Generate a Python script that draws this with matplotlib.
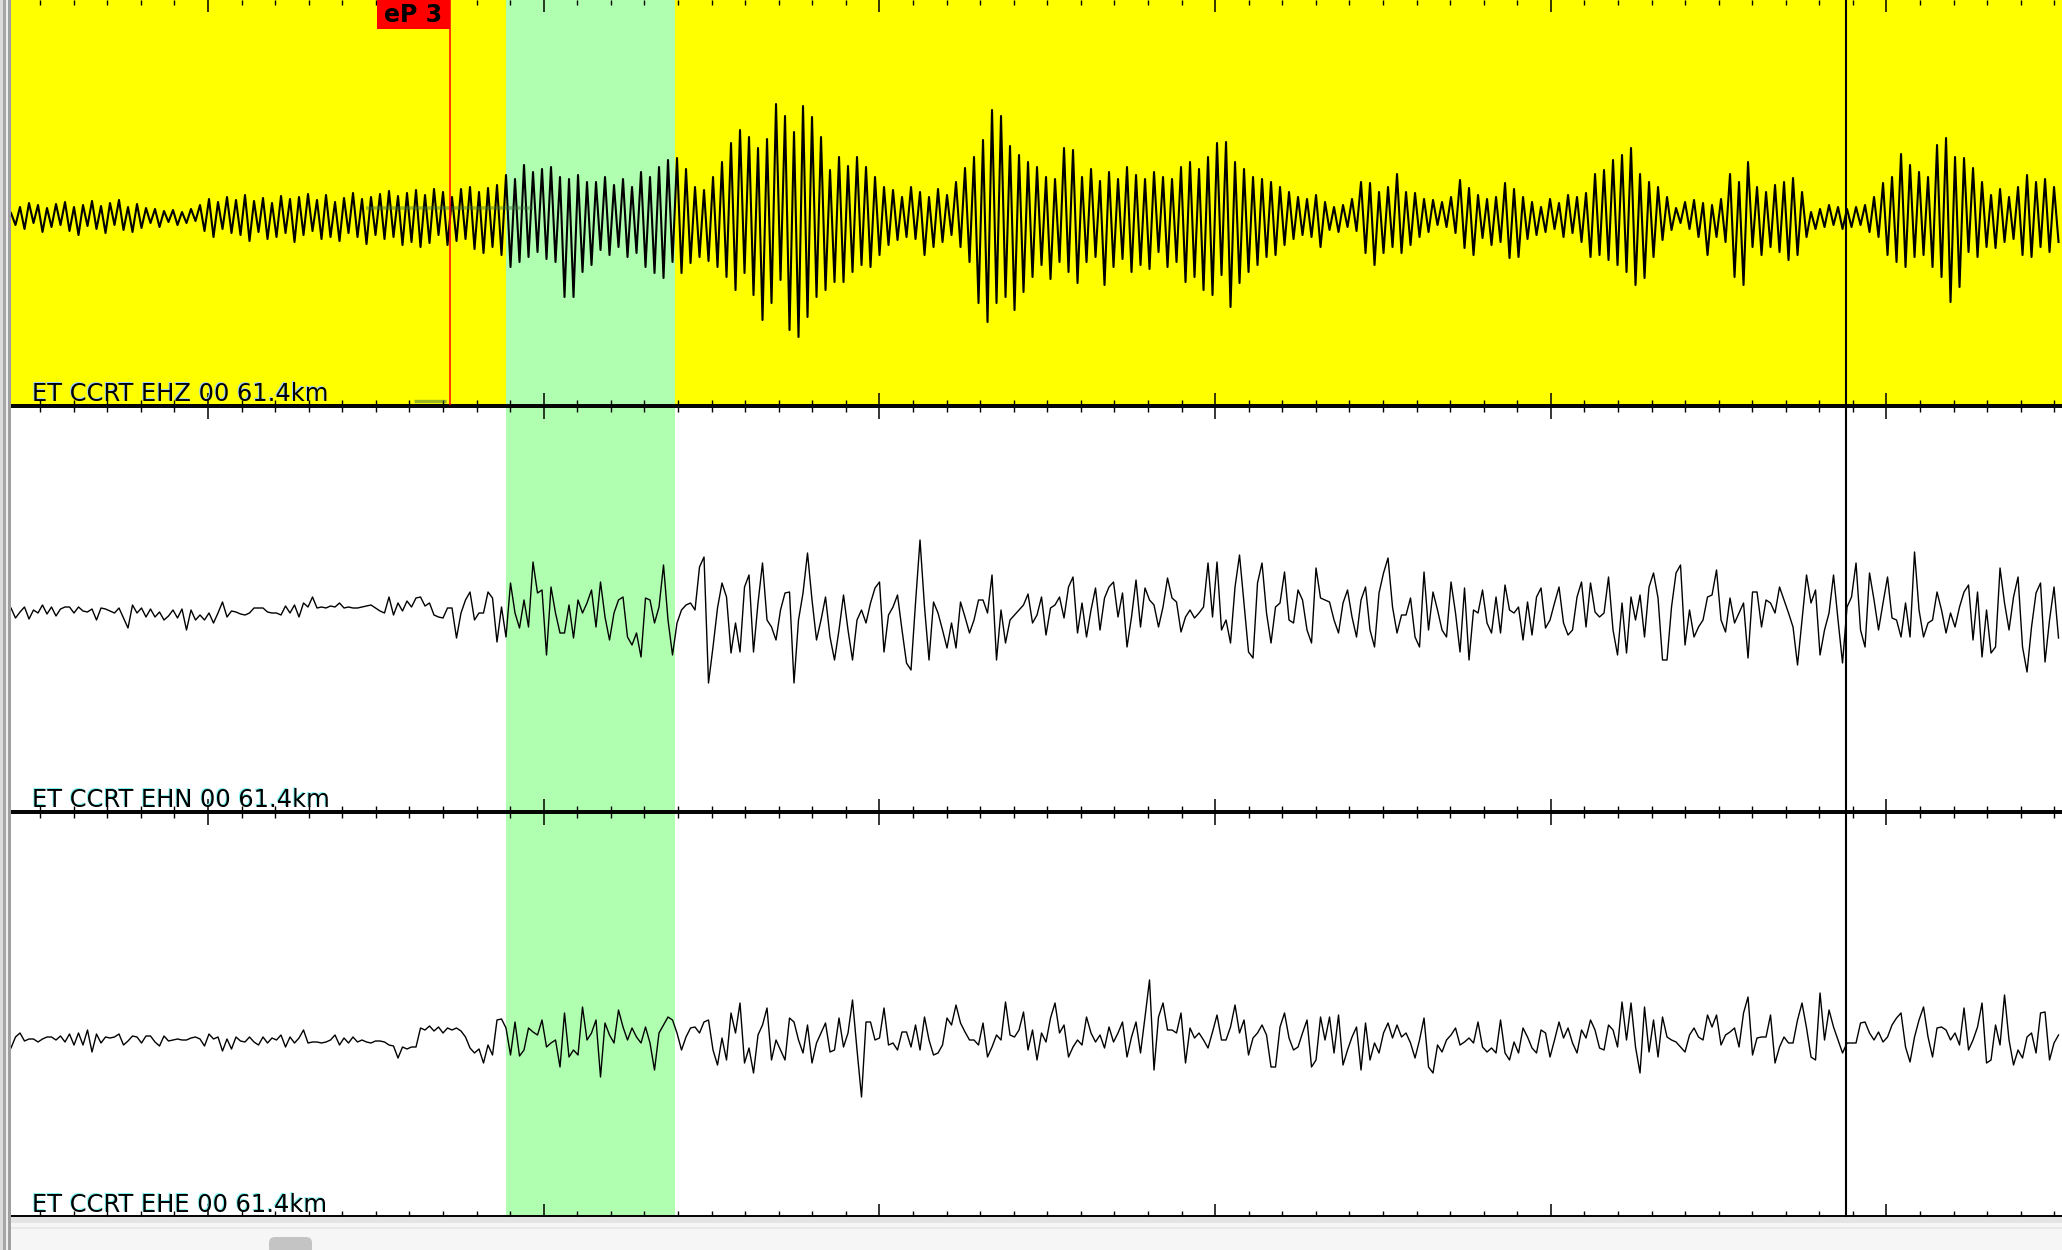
"Seismogram picker view - station CCRT, three components"

import matplotlib.pyplot as plt
from matplotlib.patches import Rectangle, FancyBboxPatch
from matplotlib.lines import Line2D
from matplotlib.ticker import MultipleLocator
from matplotlib import transforms

# samples (counts) of each component, one every dt seconds
ehz = [
    4, -8, 10, -12, 14, -6, 12, -15, 9, -10,
    13, -8, 15, -14, 10, -18, 12, -9, 16, -12,
    11, -16, 14, -8, 17, -13, 10, -15, 13, -11,
    9, -6, 8, -10, 6, -5, 7, -8, 5, -6,
    8, -4, 12, -14, 18, -20, 15, -12, 20, -16,
    17, -18, 22, -24, 16, -15, 19, -22, 14, -20,
    21, -16, 18, -25, 20, -18, 23, -14, 17, -22,
    22, -20, 15, -24, 19, -16, 24, -20, 18, -27,
    20, -18, 23, -22, 26, -20, 21, -28, 24, -25,
    27, -30, 22, -26, 28, -18, 25, -28, 20, -24,
    28, -22, 30, -32, 25, -36, 29, -30, 32, -38,
    42, -50, 38, -45, 52, -40, 45, -35, 48, -42,
    50, -45, 40, -80, 38, -80, 42, -55, 35, -48,
    35, -33, 40, -38, 32, -30, 38, -40, 30, -36,
    45, -50, 40, -56, 50, -61, 57, -45, 59, -56,
    48, -46, 30, -40, 27, -44, 40, -50, 55, -60,
    74, -73, 87, -56, 80, -78, 69, -103, 78, -86,
    113, -63, 101, -113, 85, -120, 111, -100, 100, -80,
    80, -73, 47, -65, 60, -65, 51, -55, 60, -48,
    50, -50, 40, -38, 30, -28, 27, -23, 20, -20,
    30, -22, 25, -38, 20, -30, 28, -25, 22, -18,
    35, -30, 49, -45, 60, -86, 77, -105, 107, -86,
    101, -80, 71, -93, 62, -75, 55, -60, 50, -48,
    40, -62, 38, -45, 69, -55, 67, -66, 40, -45,
    48, -40, 36, -68, 45, -50, 38, -42, 50, -55,
    42, -48, 38, -52, 45, -35, 40, -50, 38, -45,
    50, -65, 55, -60, 48, -73, 60, -78, 74, -58,
    75, -90, 55, -66, 48, -55, 40, -48, 38, -40,
    35, -38, 30, -28, 25, -22, 20, -18, 18, -20,
    22, -30, 15, -13, 10, -15, 12, -10, 18, -14,
    35, -36, 34, -48, 25, -36, 30, -30, 43, -36,
    25, -28, 24, -20, 18, -15, 17, -8, 15, -10,
    20, -16, 37, -31, 29, -38, 22, -21, 18, -28,
    20, -25, 34, -41, 28, -40, 20, -22, 15, -18,
    10, -15, 18, -12, 14, -20, 22, -16, 20, -25,
    24, -40, 43, -38, 47, -43, 57, -48, 62, -55,
    69, -68, 43, -61, 35, -40, 30, -23, 20, -13,
    9, -6, 15, -12, 17, -20, 14, -38, 12, -20,
    18, -25, 43, -60, 35, -68, 55, -30, 30, -38,
    25, -30, 32, -35, 35, -43, 39, -38, 25, -20,
    5, -12, 8, -10, 12, -8, 10, -12, 8, -10,
    10, -8, 12, -15, 20, -20, 34, -38, 40, -45,
    63, -50, 52, -40, 45, -38, 40, -50, 72, -60,
    79, -85, 60, -70, 59, -35, 49, -40, 35, -30,
    22, -31, 28, -25, 20, -22, 30, -38, 42, -40,
    35, -30, 38, -35, 30, -25,
]

ehn = [
    3, -7, -1, 4, -8, 1, -2, 6, -3, 4,
    -5, 2, 4, 4, -2, 4, 0, -1, 2, -9,
    3, 2, 0, -2, 3, -7, -17, 6, -2, 3,
    -6, 2, -6, -1, -9, -5, 1, -7, 2, -19,
    1, -9, -4, -9, -2, -12, -2, 9, -6, 0,
    -1, -3, -4, -2, 3, 3, 3, -1, -2, -2,
    -4, 5, -2, 6, -6, 8, 4, 14, 3, 4,
    3, 5, 4, 8, 3, 4, 3, 3, 4, 5,
    6, 3, 0, -2, 14, -4, 8, 0, 10, 4,
    13, 14, 5, 8, -4, -6, -7, 3, 3, -27,
    -2, 11, 19, -9, -2, -2, 19, 13, -31, 4,
    -26, 28, -2, -17, 11, -16, 49, 18, 21, -44,
    24, -2, -22, -22, 6, -27, 11, -2, 8, 21,
    -16, 29, -6, -29, -2, 11, 14, -26, -34, -22,
    -46, 13, 11, -12, 4, 46, -9, -44, -12, 1,
    6, 8, 1, 44, 54, -72, -36, 3, 28, 14,
    -42, -12, -41, 24, 36, -41, 8, 48, -9, -16,
    -29, 1, 18, 19, -72, -9, 18, 58, 11, -29,
    -9, 14, -26, -49, -19, 16, -19, -49, -9, 1,
    -12, 8, 23, 29, -41, -4, 4, 16, -19, -52,
    -59, 8, 71, 4, -49, 9, -2, -19, -37, -12,
    -37, 9, -6, -22, -9, 11, 11, -2, 36, -49,
    1, -32, -9, -4, 1, 6, 17, -12, -4, 14,
    -24, 3, 6, 14, -7, 24, 34, -22, 8, -26,
    1, 23, -19, 13, 24, 29, -6, 18, -36, -6,
    31, -16, 23, 11, 6, -16, 4, 33, 13, 9,
    -21, -6, 1, -7, -2, 4, 48, -6, 49, -19,
    -9, -32, 24, 56, 8, -41, -47, 28, 48, -2,
    -32, 4, 8, 39, -9, -12, 21, 11, -19, -32,
    43, 13, 11, 9, -9, -22, 8, 21, -6, -26,
    11, 24, -19, -36, 18, 38, 53, 4, -22, -4,
    -4, 13, -26, -36, 39, -19, 19, 1, -19, -26,
    29, -2, -41, 23, -49, 1, -2, 21, -12, -22,
    14, -22, 26, 1, -2, 4, -29, 9, -24, 14,
    23, -17, -9, 8, 24, -12, -24, -19, 14, 29,
    -16, 28, -1, -6, -2, 34, -19, -44, 8, -42,
    14, -9, 16, -26, 24, 38, 13, -49, -49, 4,
    38, 46, -34, 1, -26, -16, -9, 14, 16, 41,
    -9, -21, 13, -12, -2, 8, -47, 19, 19, -16,
    11, 8, -2, 24, 11, -2, -16, -54, -9, 36,
    8, 21, -44, -19, -2, 36, -9, -52, 4, 14,
    48, -19, -36, 38, 11, -19, 8, 34, -7, -9,
    -26, 8, -26, 59, 1, -26, -12, -9, 19, 1,
    -22, -2, -16, 4, 19, 26, -29, 19, -46, 1,
    -42, -36, 43, 8, -19, 14, 34, -36, -61, -16,
    18, 28, -51, -9, 24, -27,
]

ehe = [
    -8, 3, 7, -1, 1, 1, -2, 1, 3, 3,
    0, 4, -2, 6, -5, 7, -5, 10, -12, 6,
    -3, 3, 2, 3, 6, -5, -1, 4, 3, -3,
    4, 4, -2, -6, 4, -1, 0, 1, 0, 0,
    2, 3, 1, -6, 6, 1, 3, -11, 1, -9,
    3, -1, -2, 3, -2, -5, 3, -3, 2, 0,
    5, -7, 3, -3, 2, 10, -3, -2, -2, -3,
    -2, 0, 5, -5, 2, -3, 3, -2, 0, -2,
    -3, -1, -1, -2, -5, -6, -18, -7, -9, -7,
    -7, 12, 10, 14, 9, 13, 7, 12, 10, 12,
    9, 3, -8, -13, -9, -23, -5, -15, 20, 21,
    12, -15, 18, -16, -10, 12, 8, 5, 20, -7,
    -3, 0, -27, 27, -17, -10, -15, 33, 0, 7,
    20, -37, 17, 5, -3, 30, 13, 0, 12, 3,
    -3, 13, -3, -30, 7, 15, 23, 20, 7, -10,
    3, 12, 13, 7, 18, 20, -10, -25, 2, -20,
    27, 7, 37, -23, -8, -33, 5, 15, 32, -20,
    0, -10, -20, 22, 18, 0, -13, 15, -23, -3,
    7, 17, -12, -10, 22, -7, 7, 40, -10, -57,
    18, 18, 0, 2, 32, -5, -3, -10, 8, 8,
    -7, 15, -10, 23, 0, -15, -13, -5, 22, 15,
    35, 17, 8, 0, 0, -5, 17, -17, -7, 5,
    0, 38, 5, 3, 10, 28, -10, 10, -20, 7,
    -2, 22, 37, 7, 15, -17, -7, 0, -5, 23,
    7, -2, 5, -8, 13, -2, 7, 18, -17, 3,
    18, -13, 23, 60, -30, 23, 37, 10, 10, 7,
    27, -23, 12, 2, 7, 0, -8, 8, 25, 0,
    0, 13, 35, 7, 20, -15, 2, 7, 15, 5,
    -27, -27, 13, 27, 2, -10, -7, 7, 20, -27,
    -20, 23, 0, 23, -13, 25, -25, -10, 3, 13,
    -30, 17, -20, -3, -13, 7, 17, 2, 15, 3,
    7, -3, -18, 0, 22, -27, -33, -5, -12, 0,
    5, 12, -5, -2, 2, -3, 18, -7, -12, -8,
    -13, 20, -13, -20, -2, -13, 12, 3, -8, -13,
    10, 7, -17, 0, 18, 2, 12, -3, -13, 10,
    2, 20, 10, -8, -10, 15, 10, -7, 38, 0,
    37, -7, -33, 33, -12, 20, -17, 23, 3, 0,
    -2, -7, -12, 5, 12, 3, 0, 25, 13, 25,
    -5, 5, 8, 12, -7, 27, 43, -15, 2, 3,
    3, 25, -23, -7, 3, -3, -3, 20, 37, 12,
    -17, -20, 47, 0, 30, 13, 0, -13, -3, -3,
    -3, 17, 18, 7, 0, 8, -2, 3, 15, 22,
    27, -7, -22, 3, 20, 33, 3, -17, 12, 13,
    10, 0, 7, -5, 32, -10, 0, 13, 37, -23,
    -20, 15, -5, 45, 0, -25, -10, -18, 3, 7,
    -13, 27, 28, -20, -3, 5,
]

channels = ["EHZ", "EHN", "EHE"]
labels = ["ET CCRT EHZ 00 61.4km", "ET CCRT EHN 00 61.4km", "ET CCRT EHE 00 61.4km"]

t_start = 0.4132     # s, first sample / left edge
dt = 0.013405        # s between samples
t_view = (0.4132, 6.5228)

pick_time = 1.721    # eP onset
pick_name = "eP 3"
pick_spread = (1.471, 1.968)
pick_tick = (1.614, 1.709)
window = (1.888, 2.391)   # highlighted time window
cursor_time = 5.879

W, H = 2062, 1250
fig = plt.figure(figsize=(W / 100, H / 100), dpi=100)
fig.patch.set_facecolor("white")


def rect(x0, y0, x1, y1):
    # pixel box (from top-left) -> figure fraction
    return [x0 / W, 1 - y1 / H, (x1 - x0) / W, (y1 - y0) / H]


panels = [
    dict(box=(11, 0, 2062, 404.5), ylim=(-187.5, 217), face="#ffff00", lw=1.5, shadow="#9fd4f5"),
    dict(box=(11, 407, 2062, 810.5), ylim=(-199.5, 204), face="white", lw=1.0, shadow="#7ff2f2"),
    dict(box=(11, 813, 2062, 1215.5), ylim=(-175.5, 227), face="white", lw=1.0, shadow="#7ff2f2"),
]
traces = [ehz, ehn, ehe]

axes = []
for k, p in enumerate(panels):
    ax = fig.add_axes(rect(*p["box"]))
    ax.set_facecolor(p["face"])
    ax.set_xlim(*t_view)
    ax.set_ylim(*p["ylim"])
    for s in ["left", "right"]:
        ax.spines[s].set_visible(False)
    ax.spines["bottom"].set_linewidth(1.4)
    ax.spines["top"].set_linewidth(1.4)
    if k == 0:
        ax.spines["top"].set_visible(False)
    ax.xaxis.set_major_locator(MultipleLocator(1.0))
    ax.xaxis.set_minor_locator(MultipleLocator(0.1))
    ax.tick_params(which="both", direction="in", top=True, bottom=True,
                   labelbottom=False, labeltop=False, left=False, labelleft=False)
    ax.tick_params(which="major", length=8.5, width=1.1)
    ax.tick_params(which="minor", length=3.5, width=1.0)

    ax.axvspan(*window, color="#b0ffb0", zorder=0.5, lw=0)

    vals = traces[k]
    t = [t_start + dt * i for i in range(len(vals))]
    ax.plot(t, vals, color="black", lw=p["lw"], zorder=3)

    sh = transforms.offset_copy(ax.transAxes, fig=fig, x=-1.6, y=0.8, units="dots")
    ax.text(0.0103, 0.009, labels[k], transform=sh, fontsize=17.4, color=p["shadow"],
            va="baseline", ha="left", zorder=4)
    ax.text(0.0103, 0.009, labels[k], transform=ax.transAxes, fontsize=17.4, color="black",
            va="baseline", ha="left", zorder=5)
    axes.append(ax)

ax1 = axes[0]

# pick: red line, red flag, uncertainty bars
ax1.axvline(pick_time, color="#ff0000", lw=1.1, zorder=4)
flag = transforms.blended_transform_factory(ax1.transData, ax1.transAxes)
flag_w = 0.2175
ax1.add_patch(Rectangle((pick_time - flag_w, 1 - 29 / 404.5), flag_w, 29 / 404.5,
                        transform=flag, facecolor="#ff0000", edgecolor="none", zorder=4))
ax1.text(pick_time - flag_w / 2, 1 - 15 / 404.5, pick_name, transform=flag,
         fontsize=17, fontweight="bold", color="black", ha="center", va="center", zorder=5)
ax1.plot(pick_spread, [9.5, 9.5], color="#3a6e3a", alpha=0.45, lw=2.6,
         solid_capstyle="butt", zorder=3.5)
ax1.plot(pick_tick, [-184, -184], color="#3a6e3a", alpha=0.5, lw=2.4,
         solid_capstyle="butt", zorder=3.5)

# window band and cursor run through the gaps between panels
span = transforms.blended_transform_factory(ax1.transData, fig.transFigure)
fig.add_artist(Rectangle((window[0], 34.5 / H), window[1] - window[0], 1 - 34.5 / H,
                         transform=span, facecolor="#b0ffb0", edgecolor="none", zorder=-1))
fig.add_artist(Line2D([cursor_time, cursor_time], [34.5 / H, 1], transform=span,
                      color="black", lw=1.5, zorder=5))

# window chrome: left frame and bottom scrollbar
inch = fig.dpi_scale_trans
fig.add_artist(Rectangle((0, 0), W / 100, 0.345, transform=inch, facecolor="#f6f6f6",
                         edgecolor="none", zorder=-2))
fig.add_artist(Rectangle((0.1, 0.27), W / 100, 0.06, transform=inch, facecolor="#e4e4e4",
                         edgecolor="none", zorder=-2))
fig.add_artist(Rectangle((0.1, 0.215), W / 100, 0.02, transform=inch, facecolor="#e9e9e9",
                         edgecolor="none", zorder=-2))
fig.add_artist(FancyBboxPatch((2.69, -0.05), 0.43, 0.18,
                              boxstyle="round,pad=0,rounding_size=0.06", transform=inch,
                              facecolor="#c4c4c4", edgecolor="none", zorder=2))
for x0, w, c in [(0, 0.03, "#dcdcdc"), (0.03, 0.025, "#a6a6a6"),
                 (0.055, 0.025, "#eeeeee"), (0.08, 0.025, "#a0a0a0")]:
    fig.add_artist(Rectangle((x0, 0), w, H / 100, transform=inch, facecolor=c,
                             edgecolor="none", zorder=6))

fig.savefig("out.png", dpi=100)
